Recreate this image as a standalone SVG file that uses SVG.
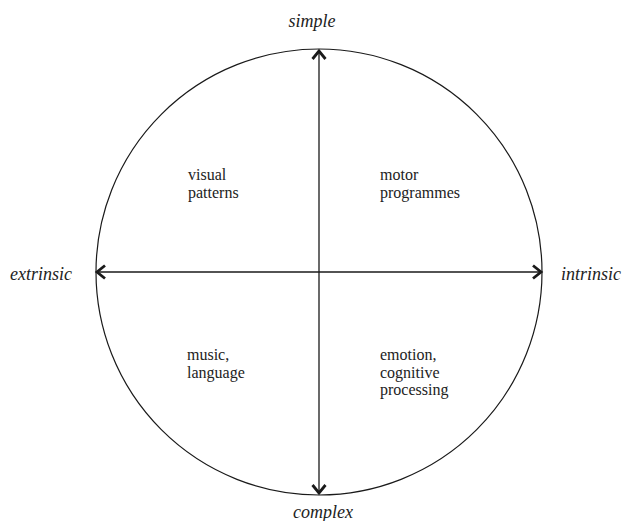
<svg xmlns="http://www.w3.org/2000/svg" width="625" height="521" viewBox="0 0 625 521">
  <defs>
    <style>
      .axis { stroke: #1a1a1a; stroke-width: 1.3; fill: none; }
      .ring { stroke: #1a1a1a; stroke-width: 1.2; fill: none; }
      .pole { font-family: "Liberation Serif", "Times New Roman", serif; font-style: italic; font-size: 18px; fill: #222; }
      .area { font-family: "Liberation Serif", "Times New Roman", serif; font-size: 16px; fill: #222; }
    </style>
    <!-- open chevron arrowhead -->
    <marker id="chev" markerUnits="userSpaceOnUse" markerWidth="20" markerHeight="20" viewBox="-12 -10 14 20" refX="0" refY="0" orient="auto-start-reverse">
      <path d="M-8,-6.5 L0,0 L-8,6.5" fill="none" stroke="#1a1a1a" stroke-width="2.8" stroke-linejoin="miter"/>
    </marker>
  </defs>
  <rect width="625" height="521" fill="#ffffff"/>

  <g id="circle">
    <ellipse class="ring" cx="319" cy="272" rx="223" ry="223"/>
  </g>

  <g id="connectors">
    <line class="axis" x1="319" y1="51" x2="319" y2="493" marker-start="url(#chev)" marker-end="url(#chev)"/>
    <line class="axis" x1="97" y1="272" x2="541" y2="272" marker-start="url(#chev)" marker-end="url(#chev)"/>
  </g>

  <g id="simple"><text class="pole" x="312" y="27" text-anchor="middle">simple</text></g>
  <g id="complex"><text class="pole" x="323" y="518" text-anchor="middle">complex</text></g>
  <g id="extrinsic"><text class="pole" x="10" y="280">extrinsic</text></g>
  <g id="intrinsic"><text class="pole" x="561" y="280">intrinsic</text></g>

  <g id="visual-patterns">
    <text class="area" x="188" y="180">visual</text>
    <text class="area" x="188" y="197.5">patterns</text>
  </g>
  <g id="motor-programmes">
    <text class="area" x="380" y="180">motor</text>
    <text class="area" x="380" y="197.5">programmes</text>
  </g>
  <g id="music-language">
    <text class="area" x="187" y="360">music,</text>
    <text class="area" x="187" y="377.5">language</text>
  </g>
  <g id="emotion-cognitive">
    <text class="area" x="380" y="360">emotion,</text>
    <text class="area" x="380" y="377.5">cognitive</text>
    <text class="area" x="380" y="395">processing</text>
  </g>
</svg>
